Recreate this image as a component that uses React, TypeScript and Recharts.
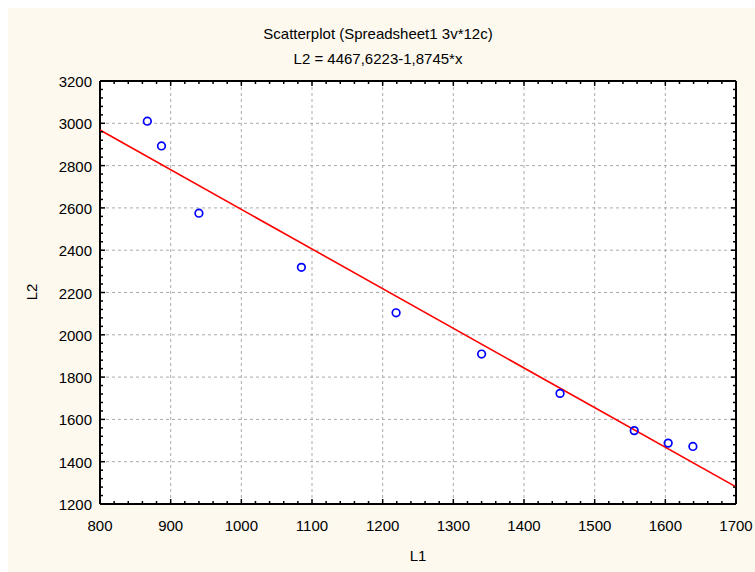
import {
  ScatterChart,
  Scatter,
  XAxis,
  YAxis,
  ReferenceLine,
  ReferenceArea,
} from "recharts";

const L1 = [867, 887, 940, 1085, 1219, 1340, 1451, 1556, 1604, 1639];
const L2 = [3010, 2893, 2575, 2319, 2104, 1909, 1723, 1547, 1488, 1472];

// fitted line L2 = 4467,6223-1,8745*x at the two ends of the x range
const fitL1 = [800, 1700];
const fitL2 = [2968, 1281];

const xMajor = [800, 900, 1000, 1100, 1200, 1300, 1400, 1500, 1600, 1700];
const xTicks = [
  800, 820, 840, 860, 880, 900, 920, 940, 960, 980, 1000, 1020, 1040, 1060, 1080,
  1100, 1120, 1140, 1160, 1180, 1200, 1220, 1240, 1260, 1280, 1300, 1320, 1340,
  1360, 1380, 1400, 1420, 1440, 1460, 1480, 1500, 1520, 1540, 1560, 1580, 1600,
  1620, 1640, 1660, 1680, 1700,
];
const yMajor = [1200, 1400, 1600, 1800, 2000, 2200, 2400, 2600, 2800, 3000, 3200];
const yTicks = [
  1200, 1240, 1280, 1320, 1360, 1400, 1440, 1480, 1520, 1560, 1600, 1640, 1680,
  1720, 1760, 1800, 1840, 1880, 1920, 1960, 2000, 2040, 2080, 2120, 2160, 2200,
  2240, 2280, 2320, 2360, 2400, 2440, 2480, 2520, 2560, 2600, 2640, 2680, 2720,
  2760, 2800, 2840, 2880, 2920, 2960, 3000, 3040, 3080, 3120, 3160, 3200,
];

const points = L1.map((x, i) => ({ x, y: L2[i] }));
const fitLine = fitL1.map((x, i) => ({ x, y: fitL2[i] }));

const FONT = "'Liberation Sans', Arial, sans-serif";
const BG = "#FDF9EF";

// tick marks drawn inward, labels only on majors
function XTick(props: any) {
  const { x, y, payload, side } = props;
  const major = xMajor.includes(payload.value);
  const len = major ? 5 : 3;
  const dir = side === "top" ? 1 : -1;
  return (
    <g>
      <line x1={x} y1={y} x2={x} y2={y + dir * len} stroke="#000" strokeWidth={1.5} />
      {side !== "top" && major && (
        <text x={x} y={y + 27} textAnchor="middle" fontSize={15} fontFamily={FONT} fill="#000">
          {payload.value}
        </text>
      )}
    </g>
  );
}

function YTick(props: any) {
  const { x, y, payload, side } = props;
  const major = yMajor.includes(payload.value);
  const len = major ? 5 : 3;
  const dir = side === "right" ? -1 : 1;
  return (
    <g>
      <line x1={x} y1={y} x2={x + dir * len} y2={y} stroke="#000" strokeWidth={1.5} />
      {side !== "right" && major && (
        <text x={x - 8} y={y + 6} textAnchor="end" fontSize={15} fontFamily={FONT} fill="#000">
          {payload.value}
        </text>
      )}
    </g>
  );
}

const Ring = (p: any) => (
  <circle cx={p.cx} cy={p.cy} r={3.8} fill="none" stroke="#0000FF" strokeWidth={1.7} />
);

export default function App() {
  return (
    <div style={{ position: "absolute", left: 0, top: 0, width: 755, height: 572, background: "#fff" }}>
      <div style={{ position: "absolute", left: 8, top: 8, width: 747, height: 564, background: BG }} />
      <div style={{ position: "absolute", left: 0, top: 0 }}>
        <ScatterChart
          width={755}
          height={572}
          margin={{ top: 76, right: 14, bottom: 38, left: 0 }}
        >
          <ReferenceArea x1={800} x2={1700} y1={1200} y2={3200} fill="#fff" fillOpacity={1} stroke="none" />
          {xMajor.slice(1, -1).map((v) => (
            <ReferenceLine key={"gx" + v} x={v} stroke="#ABABAB" strokeDasharray="3 3" />
          ))}
          {yMajor.slice(1, -1).map((v) => (
            <ReferenceLine key={"gy" + v} y={v} stroke="#ABABAB" strokeDasharray="3 3" />
          ))}
          <XAxis
            type="number"
            dataKey="x"
            domain={[800, 1700]}
            ticks={xTicks}
            interval={0}
            height={30}
            tickSize={0}
            tickMargin={0}
            tickLine={false}
            axisLine={{ stroke: "#000", strokeWidth: 2 }}
            tick={<XTick side="bottom" />}
            allowDataOverflow
          />
          <XAxis
            xAxisId="top"
            orientation="top"
            type="number"
            dataKey="x"
            domain={[800, 1700]}
            ticks={xTicks}
            interval={0}
            height={5}
            tickSize={0}
            tickMargin={0}
            tickLine={false}
            axisLine={{ stroke: "#000", strokeWidth: 2 }}
            tick={<XTick side="top" />}
            allowDataOverflow
          />
          <YAxis
            type="number"
            dataKey="y"
            domain={[1200, 3200]}
            ticks={yTicks}
            interval={0}
            width={100}
            tickSize={0}
            tickMargin={0}
            tickLine={false}
            axisLine={{ stroke: "#000", strokeWidth: 2 }}
            tick={<YTick side="left" />}
            allowDataOverflow
          />
          <YAxis
            yAxisId="right"
            orientation="right"
            type="number"
            dataKey="y"
            domain={[1200, 3200]}
            ticks={yTicks}
            interval={0}
            width={5}
            tickSize={0}
            tickMargin={0}
            tickLine={false}
            axisLine={{ stroke: "#000", strokeWidth: 2 }}
            tick={<YTick side="right" />}
            allowDataOverflow
          />
          <Scatter
            data={fitLine}
            line={{ stroke: "#FF0000", strokeWidth: 1.6 }}
            shape={() => <g />}
            isAnimationActive={false}
          />
          <Scatter data={points} shape={Ring} isAnimationActive={false} />
        </ScatterChart>
      </div>
      <svg
        width={755}
        height={572}
        style={{ position: "absolute", left: 0, top: 0, pointerEvents: "none" }}
      >
        <text x={378} y={39} textAnchor="middle" fontSize={15} fontFamily={FONT} fill="#000">
          Scatterplot (Spreadsheet1 3v*12c)
        </text>
        <text x={378} y={64} textAnchor="middle" fontSize={15} fontFamily={FONT} fill="#000">
          L2 = 4467,6223-1,8745*x
        </text>
        <text x={418} y={561} textAnchor="middle" fontSize={15} fontFamily={FONT} fill="#000">
          L1
        </text>
        <text
          x={37}
          y={292}
          textAnchor="middle"
          fontSize={15}
          fontFamily={FONT}
          fill="#000"
          transform="rotate(-90, 37, 292)"
        >
          L2
        </text>
      </svg>
    </div>
  );
}
